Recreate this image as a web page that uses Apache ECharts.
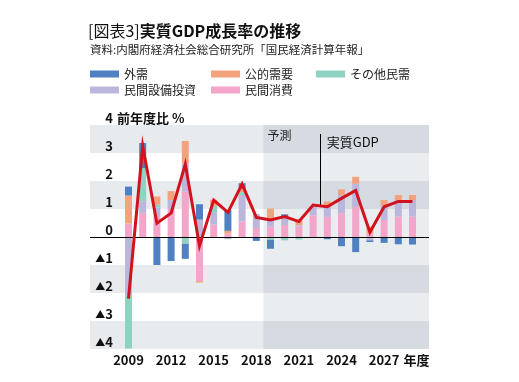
<!DOCTYPE html>
<html>
<head>
<meta charset="utf-8">
<script src="https://cdn.jsdelivr.net/npm/echarts@6/dist/echarts.min.js"></script>
<style>
html,body{margin:0;padding:0;background:#fff;}
#chart{width:519px;height:382px;}
</style>
</head>
<body>
<div id="chart"></div>
<script>
// ---- data ----
const years = ['2009','2010','2011','2012','2013','2014','2015','2016','2017','2018','2019','2020','2021','2022','2023','2024','2025','2026','2027','2028','2029'];
const consumption   = [0.49,0.86,0.75,1.00,1.62,-1.58,0.44,0.12,0.55,0.32,0.37,0.43,0.37,0.78,0.72,0.85,1.08,0.13,0.61,0.73,0.73];
const capex         = [-2.08,0.41,0.30,0.32,1.01,0.62,0.42,-0.08,0.95,0.50,0.26,0.30,0.05,0.30,0.35,0.65,0.82,-0.12,0.53,0.59,0.59];
const otherPrivate  = [-1.90,1.19,0.10,0.00,-0.24,0.00,0.25,0.00,0.10,0.00,-0.10,-0.12,-0.09,0.00,0.00,0.00,0.00,0.00,0.00,0.00,0.00];
const publicDemand  = [0.99,0.00,0.30,0.32,0.80,-0.05,0.22,0.10,0.12,0.00,0.39,0.00,0.22,0.00,0.20,0.20,0.25,0.24,0.18,0.18,0.18];
const netExports    = [0.32,0.90,-1.00,-0.86,-0.54,0.55,0.00,0.75,0.20,-0.14,-0.32,0.08,0.00,0.00,-0.08,-0.33,-0.54,-0.06,-0.21,-0.26,-0.27];
const realGDP       = [-2.20,3.25,0.49,0.85,2.60,-0.32,1.32,0.88,1.89,0.70,0.61,0.73,0.55,1.14,1.08,1.38,1.66,0.17,1.08,1.27,1.27];
const labelEvery = 3;
const unitLabelYear = '2029';
const unitLabel = '年度';
const shadedBands = [[3,4],[1,2],[-2,-1],[-4,-3]];
// background axis in "year" units so that annotations can sit between years
const bgMin = 2006.29, bgMax = 2030.16;
const forecastStart = 2018.5;
const gdpNoteYear = 2022.5;
const gdpNoteTop = 3.68;
const gdpNoteAt = 1.11;
const gdpNoteLabelY = 3.39;

const FONT = 'Noto Sans CJK JP';

const colors = {
  '外需': '#4f80c2',
  '公的需要': '#f4a27e',
  'その他民需': '#8fd2c1',
  '民間設備投資': '#bbb6dc',
  '民間消費': '#f3a5ca'
};

const legendBase = {
  icon: 'rect', itemWidth: 29, itemHeight: 7, padding: 0,
  selectedMode: false,
  textStyle: {fontSize: 12, color: '#222', lineHeight: 14, fontFamily: FONT}
};

const areaData = shadedBands.map(b => [{yAxis: b[0], itemStyle: {color: '#e8ebee'}}, {yAxis: b[1]}]);
areaData.push([
  {xAxis: forecastStart, yAxis: -4, itemStyle: {color: 'rgba(100,130,150,0.14)'},
   label: {show: true, position: 'insideTopLeft', distance: 4, formatter: '予測', color: '#222', fontSize: 12, fontFamily: FONT}},
  {xAxis: bgMax, yAxis: 4}
]);

function barSeries(name, arr) {
  return {
    name: name, type: 'bar', stack: 'total', barWidth: 7,
    xAxisIndex: 1, yAxisIndex: 1,
    itemStyle: {color: colors[name]},
    data: arr, z: 2
  };
}

const chart = echarts.init(document.getElementById('chart'), null, {renderer: 'canvas'});
chart.setOption({
  animation: false,
  textStyle: {fontFamily: FONT},
  title: [
    {text: '{a|[図表3]}{b|実質GDP成長率の推移}', left: 88, top: 21, padding: 0,
     textStyle: {rich: {
       a: {fontSize: 16, fontWeight: 'normal', color: '#111', lineHeight: 20, fontFamily: FONT},
       b: {fontSize: 16, fontWeight: 'bold', color: '#111', lineHeight: 20, fontFamily: FONT}
     }}},
    {text: '資料:内閣府経済社会総合研究所「国民経済計算年報」', left: 90, top: 43, padding: 0,
     textStyle: {fontSize: 11.5, fontWeight: 'normal', color: '#222', lineHeight: 14, fontFamily: FONT}}
  ],
  legend: [
    Object.assign({data: ['外需'], left: 90, top: 67}, legendBase),
    Object.assign({data: ['公的需要'], left: 211, top: 67}, legendBase),
    Object.assign({data: ['その他民需'], left: 316, top: 67}, legendBase),
    Object.assign({data: ['民間設備投資'], left: 90, top: 83}, legendBase),
    Object.assign({data: ['民間消費'], left: 211, top: 83}, legendBase)
  ],
  grid: [
    {left: 90, right: 90, top: 125, bottom: 33},
    {left: 121.4, right: 99.4, top: 125, bottom: 33}
  ],
  xAxis: [
    {gridIndex: 0, type: 'value', min: bgMin, max: bgMax, show: false},
    {gridIndex: 1, type: 'category', data: years, boundaryGap: true, z: 6,
     axisLine: {show: false}, axisTick: {show: false}, splitLine: {show: false},
     axisLabel: {
       interval: (idx, val) => idx % labelEvery === 0 || val === unitLabelYear,
       formatter: val => val === unitLabelYear ? '{u|' + unitLabel + '}' : val,
       rich: {u: {fontSize: 13, fontWeight: 'bold', color: '#111', fontFamily: FONT, padding: [0, 0, 0, 8]}},
       fontSize: 13, fontWeight: 'bold', color: '#111', margin: 5, fontFamily: FONT,
       hideOverlap: false
     }}
  ],
  yAxis: [
    {gridIndex: 0, type: 'value', min: -4, max: 4, interval: 1, z: 6,
     axisLine: {show: false}, axisTick: {show: false}, splitLine: {show: false},
     axisLabel: {
       inside: true, margin: 23, align: 'right', verticalAlign: 'bottom',
       hideOverlap: false, showMinLabel: true, showMaxLabel: true,
       formatter: v => v < 0 ? '{t|▲}' + (-v) : String(v),
       rich: {t: {fontSize: 10, fontWeight: 'bold', color: '#111', fontFamily: FONT}},
       fontSize: 13, fontWeight: 'bold', color: '#111', fontFamily: FONT
     },
     name: '前年度比 %', nameLocation: 'end', nameGap: 7, nameMoveOverlap: false,
     nameTextStyle: {align: 'left', verticalAlign: 'middle', padding: [0, 0, 0, 27],
       fontSize: 13, fontWeight: 'bold', color: '#111', fontFamily: FONT}},
    {gridIndex: 1, type: 'value', min: -4, max: 4, interval: 1, show: false}
  ],
  series: [
    {
      name: 'bg', type: 'line', xAxisIndex: 0, yAxisIndex: 0,
      data: [[bgMin, 0]], symbol: 'none', silent: true,
      lineStyle: {opacity: 0}, z: 0,
      markArea: {silent: true, data: areaData},
      markLine: {
        silent: true, symbol: 'none', label: {show: false},
        lineStyle: {color: '#000', width: 1, type: 'solid'},
        data: [
          {yAxis: 0},
          [{coord: [gdpNoteYear, gdpNoteTop]}, {coord: [gdpNoteYear, gdpNoteAt]}]
        ]
      },
      markPoint: {
        silent: true, symbol: 'rect', symbolSize: 1,
        itemStyle: {color: 'rgba(0,0,0,0)'},
        label: {show: true, position: 'right', distance: 6, formatter: '実質GDP',
          color: '#111', fontSize: 13, fontFamily: FONT},
        data: [{coord: [gdpNoteYear, gdpNoteLabelY]}]
      }
    },
    barSeries('民間消費', consumption),
    barSeries('民間設備投資', capex),
    barSeries('その他民需', otherPrivate),
    barSeries('公的需要', publicDemand),
    barSeries('外需', netExports),
    {
      name: '実質GDP', type: 'line', data: realGDP, z: 10,
      xAxisIndex: 1, yAxisIndex: 1,
      showSymbol: false, symbol: 'none',
      lineStyle: {color: '#d2121c', width: 3, join: 'miter'},
      itemStyle: {color: '#d2121c'}
    }
  ]
});
</script>
</body>
</html>
